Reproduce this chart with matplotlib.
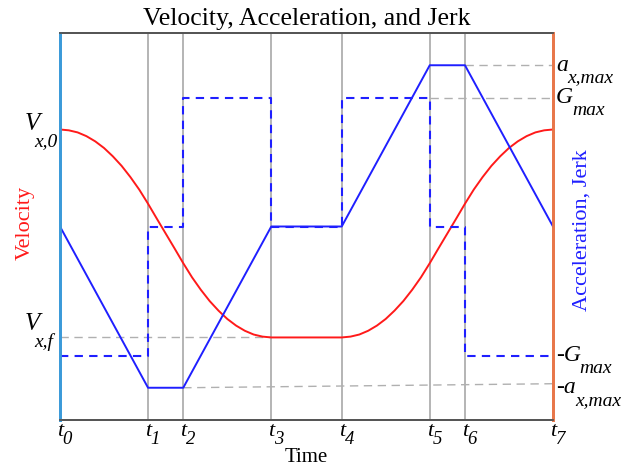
import numpy as np
import matplotlib
matplotlib.use("Agg")
import matplotlib.pyplot as plt
import matplotlib.transforms as mtransforms

plt.rcParams['font.family'] = 'Liberation Serif'

# switching times t0..t7
t_marks = [0.0, 1.0, 1.4, 2.4, 3.2, 4.2, 4.6, 5.6]
t_names = ['0', '1', '2', '3', '4', '5', '6', '7']

# acceleration (solid) and jerk (dashed) profiles
a_max = 1.0
g_max = 0.8
accel = [0.0, -a_max, -a_max, 0.0, 0.0, a_max, a_max, 0.0]
jerk = [-g_max, 0.0, g_max, 0.0, g_max, 0.0, -g_max, -g_max]

# velocity samples: falling S-curve t0..t3, flat, rising S-curve t4..t7
v_x0 = 1.0
v_xf = 0.0
vel_fall_t = np.round(np.arange(0.0, 2.41, 0.1), 2)
vel_fall = [1.000, 0.996, 0.986, 0.968, 0.943, 0.911, 0.871, 0.825, 0.771,
            0.711, 0.643, 0.571, 0.500, 0.429, 0.357, 0.289, 0.229, 0.175,
            0.129, 0.089, 0.057, 0.032, 0.014, 0.004, 0.000]
vel_rise_t = np.round(np.arange(3.2, 5.61, 0.1), 2)
vel_rise = vel_fall[::-1]

RED = '#ff1a1a'
BLUE = '#1f1fff'
GRAY = '#a0a0a0'

fig = plt.figure(figsize=(6.35, 4.68), dpi=100)
ax = fig.add_axes([60 / 635, 48 / 468, 493 / 635, 387 / 468])
ax2 = ax.twinx()

ax.set_xlim(t_marks[0], t_marks[-1])
ax.set_ylim(-0.397, 1.464)
ax2.set_ylim(-1.2, 1.2)

# vertical guides at t1..t6
for t in t_marks[1:-1]:
    ax.axvline(t, color=GRAY, lw=1.1, zorder=1)

# dashed reference levels
ref = dict(color='#b0b0b0', lw=1.0, dashes=(6, 4), zorder=1)
ax.plot([t_marks[0], t_marks[3]], [v_xf, v_xf], **ref)
ax2.plot([t_marks[6], t_marks[7]], [a_max, a_max], **ref)
ax2.plot([t_marks[5], t_marks[7]], [g_max, g_max], **ref)
ax2.plot([t_marks[2], t_marks[7]], [-a_max, -0.975 * a_max], **ref)

ax.plot(np.concatenate([vel_fall_t, vel_rise_t]), vel_fall + vel_rise,
        color=RED, lw=1.4, zorder=3)
ax2.step(t_marks, jerk, where='post', color=BLUE, lw=1.5, dashes=(4, 3))
ax2.plot(t_marks, accel, color=BLUE, lw=1.4)

for a in (ax, ax2):
    a.set_xticks([])
    a.set_yticks([])
    a.spines['top'].set_color('#555555')
    a.spines['bottom'].set_color('#555555')
    a.spines['top'].set_linewidth(1.3)
    a.spines['bottom'].set_linewidth(1.3)
    a.spines['left'].set_color('#3b9ad9')
    a.spines['left'].set_linewidth(2)
    a.spines['right'].set_color('#e8774a')
    a.spines['right'].set_linewidth(2)

ax.set_title('Velocity, Acceleration, and Jerk', fontsize=18.5, pad=6)
ax.set_xlabel('Time', fontsize=15)
ax.xaxis.set_label_coords(0.5, -0.072)
ax.set_ylabel('Velocity', fontsize=16, color=RED)
ax.yaxis.set_label_coords(-0.052, 0.51)
ax2.set_ylabel('Acceleration, Jerk', fontsize=16, color=BLUE)
ax2.yaxis.set_label_coords(1.039, 0.49)


def sub_label(axis, x, y, main, sub, trans, ha='left', va='center',
              size=15, subsize=12, anchor=(0.92, 0.35), off=(0, 0)):
    txt = axis.text(x, y, main, transform=trans, ha=ha, va=va,
                    fontsize=size, style='italic', zorder=5)
    axis.annotate(sub, xy=anchor, xycoords=txt, xytext=off,
                  textcoords='offset points', ha='left', va='top',
                  fontsize=subsize, style='italic', annotation_clip=False)
    return txt


# time labels under the axis
xtrans = mtransforms.blended_transform_factory(ax.transData, ax.transAxes)
for t, n in zip(t_marks, t_names):
    sub_label(ax, t, -0.005, 't', n, xtrans, ha='center', va='top',
              size=16, subsize=13.5, anchor=(0.95, 0.5))

# velocity levels on the left
ytrans_l = mtransforms.blended_transform_factory(ax.transAxes, ax.transData)
shift_v0 = mtransforms.offset_copy(ytrans_l, fig=fig, x=-35, y=-1, units='dots')
shift_vf = mtransforms.offset_copy(ytrans_l, fig=fig, x=-35, y=7, units='dots')
sub_label(ax, 0, v_x0, 'V', 'x,0', shift_v0, ha='left', va='baseline',
          size=18, subsize=14, anchor=(0.6, 0.12))
sub_label(ax, 0, v_xf, 'V', 'x,f', shift_vf, ha='left', va='baseline',
          size=18, subsize=14, anchor=(0.6, 0.12))

# acceleration / jerk levels on the right
ytrans_r = mtransforms.blended_transform_factory(ax2.transAxes, ax2.transData)
shift_r = mtransforms.offset_copy(ytrans_r, fig=fig, x=3, y=0, units='dots')
sub_label(ax2, 1, a_max, 'a', 'x,max', shift_r, size=17, subsize=14,
          anchor=(0.95, 0.3))
sub_label(ax2, 1, g_max, 'G', 'max', shift_r, size=17, subsize=14,
          anchor=(0.95, 0.3))
sub_label(ax2, 1, -g_max, '-G', 'max', shift_r, size=17, subsize=14,
          anchor=(0.95, 0.3))
sub_label(ax2, 1, -a_max, '-a', 'x,max', shift_r, size=17, subsize=14,
          anchor=(0.95, 0.3))

fig.savefig('out.png', dpi=100)
